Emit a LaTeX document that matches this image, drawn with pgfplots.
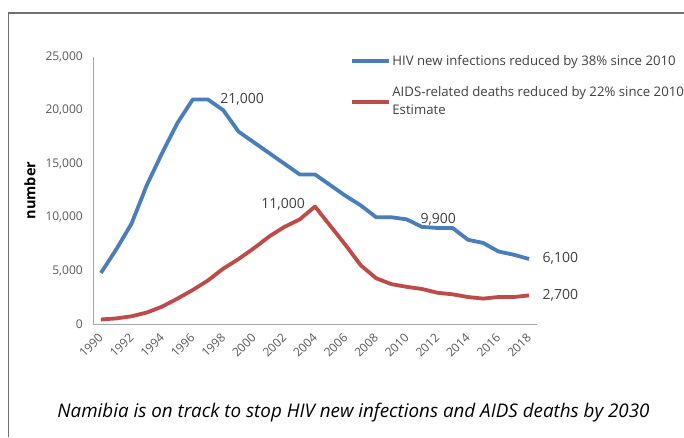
\documentclass[border=0pt]{standalone}
\usepackage{fontspec}
\setmainfont{Open Sans}
\usepackage{pgfplots}
\pgfplotsset{compat=1.18}
\definecolor{hivblue}{HTML}{4A7EBB}
\definecolor{aidsred}{HTML}{BE4B48}
\definecolor{ticktext}{HTML}{595959}
\definecolor{labeltext}{HTML}{404040}
\definecolor{axisgray}{HTML}{A6A6A6}
\definecolor{framegray}{HTML}{707070}

\pgfplotstableread{
year hiv
1990 4800
1991 7000
1992 9400
1993 13000
1994 16000
1995 18800
1996 21000
1997 21000
1998 20000
1999 18000
2000 17000
2001 16000
2002 15000
2003 14000
2004 14000
2005 13000
2006 12000
2007 11100
2008 10000
2009 10000
2010 9800
2011 9100
2012 9000
2013 9000
2014 7900
2015 7600
2016 6800
2017 6500
2018 6100
}\hivdata

\pgfplotstableread{
year aids
1990 450
1991 550
1992 750
1993 1100
1994 1650
1995 2400
1996 3200
1997 4100
1998 5200
1999 6100
2000 7100
2001 8200
2002 9100
2003 9800
2004 11000
2005 9200
2006 7400
2007 5500
2008 4300
2009 3750
2010 3500
2011 3300
2012 2950
2013 2800
2014 2550
2015 2400
2016 2550
2017 2550
2018 2700
}\aidsdata

\begin{document}
\begin{tikzpicture}[x=1pt,y=1pt]
\useasboundingbox (0,0) rectangle (684,437);
\draw[framegray, line width=1.5pt] (8.5,0) -- (8.5,424) -- (685,424);
\begin{axis}[
  at={(93.3pt,112.7pt)}, anchor=south west,
  scale only axis, width=443.4pt, height=267.6pt,
  xmin=1989.5, xmax=2018.5, ymin=0, ymax=25000,
  clip=false,
  axis x line*=bottom, axis y line*=left,
  axis line style={draw=axisgray, line width=1pt, -},
  xtick={1990,1992,...,2018},
  ytick={0,5000,10000,15000,20000,25000},
  major tick length=0pt,
  scaled y ticks=false,
  /pgf/number format/assume math mode=true,
  yticklabel style={/pgf/number format/1000 sep={,}, font=\fontsize{12}{14}\selectfont, color=ticktext, xshift=-7pt},
  xticklabel style={/pgf/number format/1000 sep={}, font=\fontsize{12}{14}\selectfont, color=ticktext, rotate=45, anchor=east, inner sep=0pt, text height=8.5pt, text depth=0pt},
  xticklabel shift=11pt,
  ylabel={number},
  ylabel style={at={(axis description cs:-0.1428,0.5)}, anchor=center, font=\bfseries\fontsize{14.5}{16}\selectfont, color=black},
  legend style={draw=none, fill=none, font=\fontsize{13.2}{18}\selectfont, text=labeltext,
    at={(axis description cs:0.5730,1.0174)}, anchor=north west, row sep=18pt,
    nodes={align=left, inner sep=1pt}},
  legend cell align=left,
  legend image code/.code={\draw[#1, line width=3.8pt] (0pt,0pt) -- (37pt,0pt);},
]
\addplot[hivblue, line width=3.8pt, line join=round] table[x=year, y=hiv] {\hivdata};
\addlegendentry{HIV new infections reduced by 38\% since 2010}
\addplot[aidsred, line width=3.8pt, line join=round] table[x=year, y=aids] {\aidsdata};
\addlegendentry{AIDS-related deaths reduced by 22\% since 2010\\Estimate}

\begin{scope}[every node/.style={font=\fontsize{14}{16}\selectfont, text=labeltext, inner sep=0pt}]
\node[anchor=west] at (axis cs:1997.8,21000) {21,000};
\node[anchor=east] at (axis cs:2003.35,11240) {11,000};
\node[anchor=center] at (axis cs:2012.06,9840) {9,900};
\node[anchor=west] at (axis cs:2018.87,6130) {6,100};
\node[anchor=west] at (axis cs:2018.87,2670) {2,700};
\end{scope}
\end{axis}
\node[font=\itshape\fontsize{18.8}{22}\selectfont, text=black] at (353.5,24) {Namibia is on track to stop HIV new infections and AIDS deaths by 2030};
\end{tikzpicture}
\end{document}
